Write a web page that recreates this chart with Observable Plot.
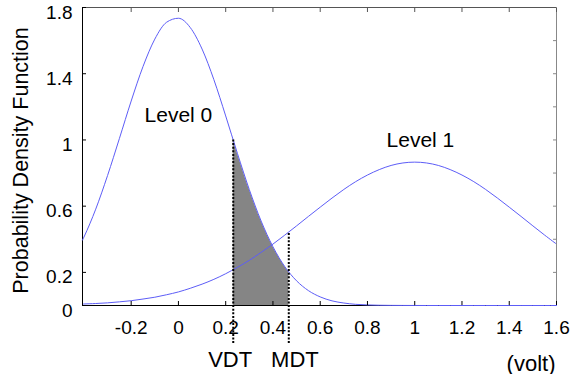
<!DOCTYPE html>
<html><head><meta charset="utf-8">
<script src="https://cdn.jsdelivr.net/npm/d3@7"></script>
<script src="https://cdn.jsdelivr.net/npm/@observablehq/plot@0.6"></script>
<style>body{margin:0;background:#fff}</style>
</head><body><div id="chart"></div>
<script>
// Voltage samples (volt) and the two density curves
const voltage = [-0.406,-0.4,-0.35,-0.3,-0.25,-0.2,-0.15,-0.1,-0.05,0,0.05,0.1,0.15,0.2,0.25,0.3,0.35,0.4,0.45,0.5,0.55,0.6,0.65,0.7,0.75,0.8,0.85,0.9,0.95,1,1.05,1.1,1.15,1.2,1.25,1.3,1.35,1.4,1.45,1.5,1.55,1.6];
const level0 = [0.395,0.413,0.582,0.785,1.008,1.235,1.443,1.609,1.711,1.735,1.679,1.549,1.364,1.145,0.917,0.700,0.510,0.355,0.235,0.149,0.090,0.052,0.028,0.015,0.007,0.0035,0.0016,0.0007,0.0003,0.0001,0,0,0,0,0,0,0,0,0,0,0,0];
const level1 = [0.008,0.009,0.012,0.016,0.022,0.029,0.039,0.050,0.065,0.082,0.104,0.129,0.158,0.192,0.231,0.273,0.321,0.371,0.425,0.481,0.538,0.594,0.649,0.701,0.748,0.788,0.821,0.846,0.861,0.866,0.861,0.846,0.821,0.788,0.748,0.701,0.649,0.594,0.538,0.481,0.425,0.371];

// Thresholds and the shaded region under Level 0 between them
const thresholdNames = ["VDT", "MDT"];
const thresholdX = [0.232, 0.467];
const thresholdTop = [0.999, 0.44];
const thresholdLabelX = [0.219, 0.493];
const shadeX = [0.232, 0.25, 0.3, 0.35, 0.4, 0.45, 0.467];
const shadeY = [0.999, 0.917, 0.700, 0.510, 0.355, 0.235, 0.202];

// Curve labels
const curveNames = ["Level 0", "Level 1"];
const curveLabelX = [0, 1.024];
const curveLabelY = [1.147, 0.996];

// Axes
const xDomain = [-0.406, 1.6];
const yDomain = [0, 1.8];
const xTicks = [-0.2, 0, 0.2, 0.4, 0.6, 0.8, 1, 1.2, 1.4, 1.6];
const xTickLabels = ["-0.2", "0", "0.2", "0.4", "0.6", "0.8", "1", "1.2", "1.4", "1.6"];
const yTicks = [0, 0.2, 0.6, 1, 1.4, 1.8];
const yTickLabels = ["0", "0.2", "0.6", "1", "1.4", "1.8"];
const yRightTicks = [0.2, 0.4, 0.6, 0.8, 1, 1.2, 1.4, 1.6];
const yTitle = "Probability Density Function";
const xUnit = "(volt)";
const belowAxis = -0.23;

const font = "'Liberation Sans', Arial, Helvetica, sans-serif";
const blue = "#5d5df7";

const curve0 = voltage.map((x, i) => ({x, y: level0[i]}));
const curve1 = voltage.map((x, i) => ({x, y: level1[i]}));
const shade = shadeX.map((x, i) => ({x, y: shadeY[i]}));
const thresholds = thresholdNames.map((name, i) => ({name, x: thresholdX[i], top: thresholdTop[i], lx: thresholdLabelX[i]}));
const curveLabels = curveNames.map((name, i) => ({name, x: curveLabelX[i], y: curveLabelY[i]}));
const xLab = xTicks.map((v, i) => ({v, t: xTickLabels[i]}));
const yLab = yTicks.map((v, i) => ({v, t: yTickLabels[i]}));

const chart = Plot.plot({
  width: 580,
  height: 374,
  marginLeft: 82,
  marginRight: 24,
  marginTop: 7,
  marginBottom: 69,
  style: {fontFamily: font, background: "#fff", overflow: "visible"},
  x: {domain: xDomain, axis: null},
  y: {domain: yDomain, axis: null},
  marks: [
    Plot.areaY(shade, {x: "x", y: "y", fill: "#858585", curve: "catmull-rom"}),
    Plot.line(curve1, {x: "x", y: "y", stroke: blue, strokeWidth: 1, curve: "catmull-rom"}),
    // frame
    Plot.ruleY([yDomain[1]], {stroke: "#555", strokeWidth: 1}),
    Plot.ruleX([xDomain[1]], {stroke: "#888", strokeWidth: 1}),
    Plot.ruleY([yDomain[0]], {stroke: "#000", strokeWidth: 1}),
    Plot.ruleX([xDomain[0]], {stroke: "#000", strokeWidth: 1}),
    Plot.line(curve0, {x: "x", y: "y", stroke: blue, strokeWidth: 1, curve: "monotone-x"}),
    // inward ticks
    Plot.axisX(xTicks, {anchor: "bottom", tickSize: -4, tickFormat: () => "", stroke: "#000"}),
    Plot.axisX(xTicks, {anchor: "top", tickSize: -4, tickFormat: () => "", stroke: "#555"}),
    Plot.axisY(yTicks, {anchor: "left", tickSize: -4, tickFormat: () => "", stroke: "#000"}),
    Plot.axisY(yRightTicks, {anchor: "right", tickSize: -4, tickFormat: () => "", stroke: "#888"}),
    // tick labels
    Plot.text(xLab, {x: "v", text: "t", frameAnchor: "bottom", dy: 22, fontSize: 19, fill: "#000", lineAnchor: "middle"}),
    Plot.text(yLab, {y: "v", text: "t", frameAnchor: "left", dx: -10, dy: 5, textAnchor: "end", fontSize: 19, fill: "#000", lineAnchor: "middle"}),
    // threshold dotted lines
    Plot.ruleX(thresholds, {x: "x", y1: belowAxis, y2: "top", stroke: "#000", strokeWidth: 2, strokeDasharray: "2,1.6"}),
    Plot.text(thresholds, {x: "lx", text: "name", frameAnchor: "bottom", dy: 54, fontSize: 22, fill: "#000", lineAnchor: "middle"}),
    // curve labels
    Plot.text(curveLabels, {x: "x", y: "y", text: "name", fontSize: 21, fill: "#000", lineAnchor: "middle"}),
    // unit and title
    Plot.text([xUnit], {frameAnchor: "bottom-right", dx: -1, dy: 58, textAnchor: "end", fontSize: 22, fill: "#000", lineAnchor: "middle"}),
    Plot.text([yTitle], {frameAnchor: "left", rotate: -90, dx: -61, dy: 4, textAnchor: "middle", fontSize: 21.5, fill: "#000", lineAnchor: "middle"})
  ]
});
document.getElementById("chart").appendChild(chart);
</script>
</body></html>
